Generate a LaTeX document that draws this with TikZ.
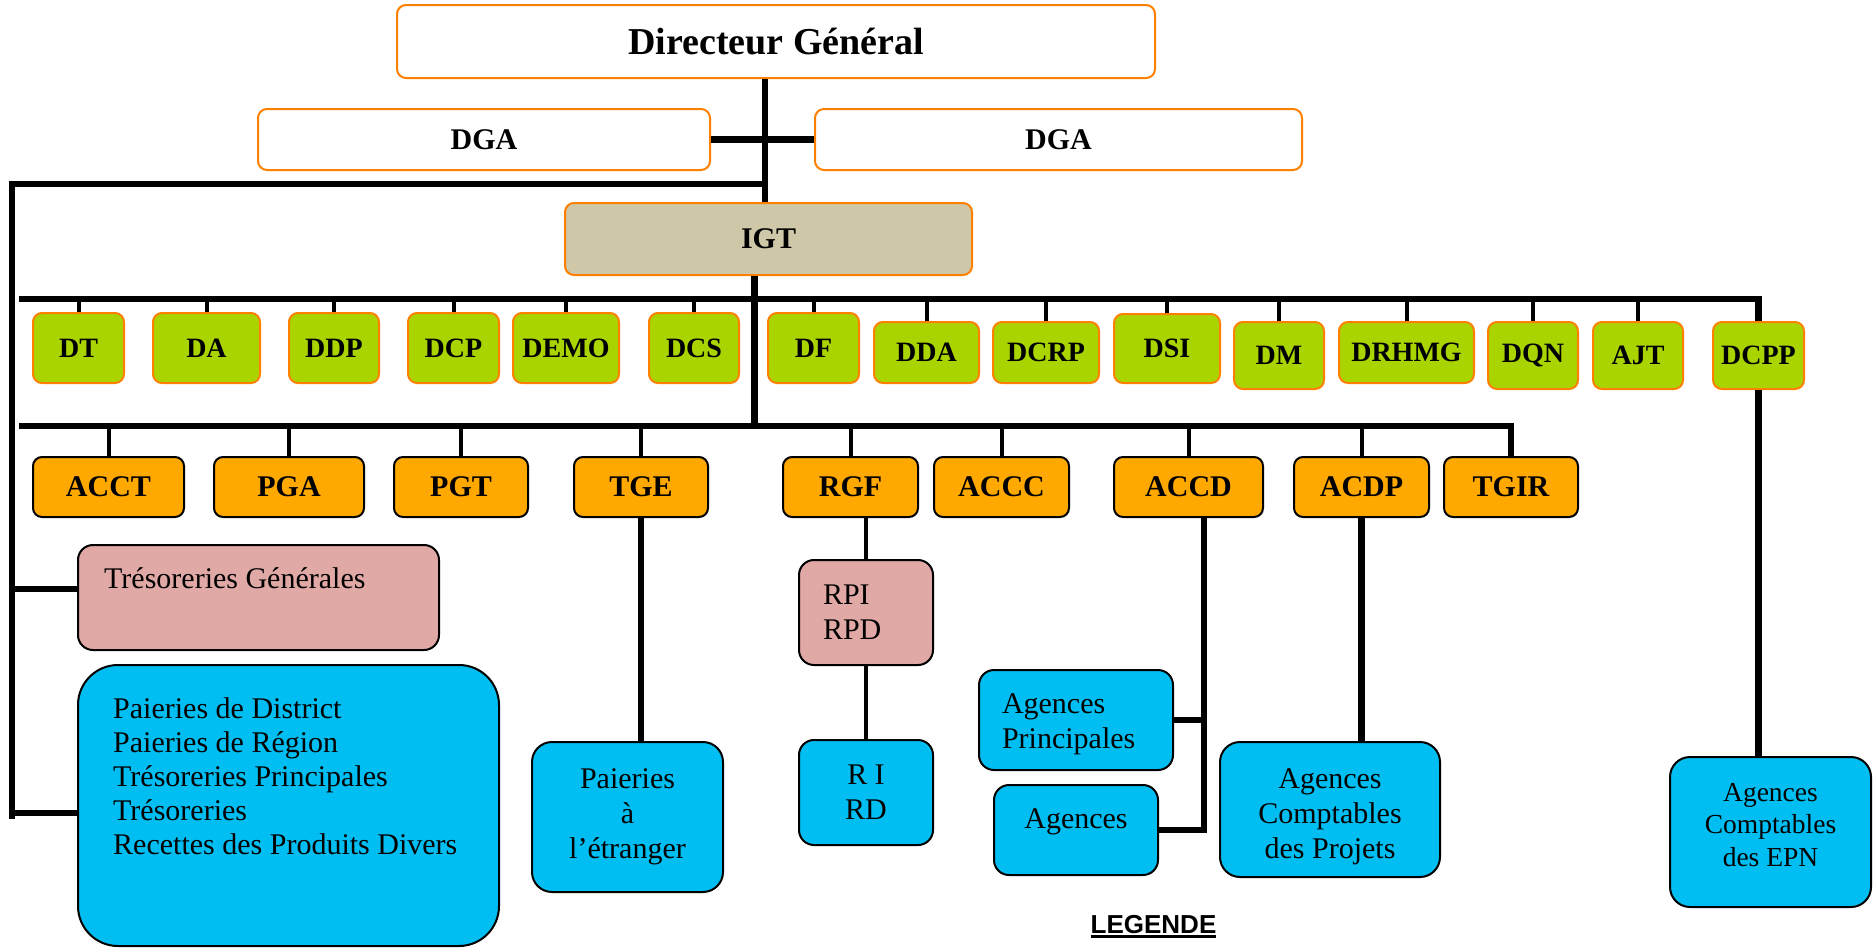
\documentclass[tikz,border=0pt]{standalone}
\usepackage{fontspec}
\setmainfont{Liberation Serif}
\newfontfamily\legendfont{Liberation Sans}
\usetikzlibrary{positioning,calc}

\definecolor{dirorange}{RGB}{255,128,0}
\definecolor{dirgreen}{RGB}{170,212,0}
\definecolor{igttan}{RGB}{206,200,168}
\definecolor{agorange}{RGB}{255,168,0}
\definecolor{svcpink}{RGB}{225,169,166}
\definecolor{svcblue}{RGB}{0,190,242}

\begin{document}
\begin{tikzpicture}[x=1pt,y=-1pt,
    box/.style={rounded corners=9pt,line width=2pt,inner sep=0pt,align=center},
    topbox/.style={box,draw=dirorange,fill=white,font=\bfseries\fontsize{30}{36}\selectfont},
    dirbox/.style={box,draw=dirorange,fill=dirgreen,font=\bfseries\fontsize{28}{34}\selectfont},
    agbox/.style={box,draw=black,fill=agorange,minimum height=60pt,font=\bfseries\fontsize{30}{36}\selectfont},
    pinkbox/.style={box,draw=black,fill=svcpink,rounded corners=15pt,font=\fontsize{30}{35}\selectfont},
    bluebox/.style={box,draw=black,fill=svcblue,rounded corners=20pt,font=\fontsize{30}{35}\selectfont},
    boxtext/.style={inner sep=0pt,align=center,font=\fontsize{30}{35}\selectfont},
    bar/.style={line width=6.5pt},
    stub/.style={line width=4pt}]
  \useasboundingbox (0,0) rectangle (1873,948);

  \node[topbox,minimum width=758pt,minimum height=73pt,font=\bfseries\fontsize{38}{44}\selectfont] (dg) at (776,41.5) {Directeur Général};
  \node[topbox,minimum width=452pt,minimum height=61pt] (dgal) at (484,139.5) {DGA};
  \node[topbox,minimum width=487pt,minimum height=61pt] (dgar) at (1058.5,139.5) {DGA};
  \node[topbox,fill=igttan,minimum width=407pt,minimum height=72pt] (igt) at (768.5,239) {IGT};

  \node[dirbox,minimum width=91pt,minimum height=70pt] (dt) at (78.5,348) {DT};
  \node[dirbox,minimum width=107pt,minimum height=70pt] (da) at (206.5,348) {DA};
  \node[dirbox,minimum width=90pt,minimum height=70pt] (ddp) at (334,348) {DDP};
  \node[dirbox,minimum width=91pt,minimum height=70pt] (dcp) at (453.5,348) {DCP};
  \node[dirbox,minimum width=106pt,minimum height=70pt] (demo) at (566,348) {DEMO};
  \node[dirbox,minimum width=90pt,minimum height=70pt] (dcs) at (694,348) {DCS};
  \node[dirbox,minimum width=91pt,minimum height=70pt] (df) at (813.5,348) {DF};
  \node[dirbox,minimum width=105pt,minimum height=61pt] (dda) at (926.5,352.5) {DDA};
  \node[dirbox,minimum width=106pt,minimum height=61pt] (dcrp) at (1046,352.5) {DCRP};
  \node[dirbox,minimum width=106pt,minimum height=69pt] (dsi) at (1167,348.5) {DSI};
  \node[dirbox,minimum width=90pt,minimum height=67pt] (dm) at (1279,355.5) {DM};
  \node[dirbox,minimum width=135pt,minimum height=61pt] (drhmg) at (1406.5,352.5) {DRHMG};
  \node[dirbox,minimum width=90pt,minimum height=67pt] (dqn) at (1533,355.5) {DQN};
  \node[dirbox,minimum width=90pt,minimum height=67pt] (ajt) at (1638,355.5) {AJT};
  \node[dirbox,minimum width=91pt,minimum height=67pt] (dcpp) at (1758.5,355.5) {DCPP};

  \node[agbox,minimum width=151pt] (acct) at (108.5,487) {ACCT};
  \node[agbox,minimum width=150pt] (pga) at (289,487) {PGA};
  \node[agbox,minimum width=134pt] (pgt) at (461,487) {PGT};
  \node[agbox,minimum width=134pt] (tge) at (641,487) {TGE};
  \node[agbox,minimum width=135pt] (rgf) at (850.5,487) {RGF};
  \node[agbox,minimum width=135pt] (accc) at (1001.5,487) {ACCC};
  \node[agbox,minimum width=149pt] (accd) at (1188.5,487) {ACCD};
  \node[agbox,minimum width=135pt] (acdp) at (1361.5,487) {ACDP};
  \node[agbox,minimum width=134pt] (tgir) at (1511,487) {TGIR};

  \node[pinkbox,minimum width=361pt,minimum height=105pt] (tg) at (258.5,597.5) {};
  \node[boxtext,anchor=north west] (tgtext) at (104,567) {Trésoreries Générales};
  \node[bluebox,rounded corners=40pt,minimum width=421pt,minimum height=281pt] (pd) at (288.5,805.5) {};
  \node[boxtext,anchor=north west,align=left,font=\fontsize{30}{34}\selectfont] (pdtext) at (113,697)
    {Paieries de District\\Paieries de Région\\Trésoreries Principales\\Trésoreries\\Recettes des Produits Divers};
  \node[bluebox,minimum width=191pt,minimum height=150pt] (pe) at (627.5,817) {Paieries\\à\\l’étranger};
  \node[pinkbox,minimum width=134pt,minimum height=105pt,text width=86pt,align=left] (rp) at (866,612.5) {RPI\\RPD};
  \node[bluebox,rounded corners=15pt,minimum width=134pt,minimum height=105pt] (ri) at (866,792.5) {R I\\RD};
  \node[bluebox,rounded corners=15pt,minimum width=194pt,minimum height=100pt] (ap) at (1076,720) {};
  \node[boxtext,text width=148pt,align=left] (aptext) at ([yshift=-4pt]ap.center) {Agences\\Principales};
  \node[bluebox,rounded corners=15pt,minimum width=164pt,minimum height=90pt] (ag) at (1076,830) {};
  \node[boxtext] (agtext) at ([yshift=8pt]ag.center) {Agences};
  \node[bluebox,minimum width=220pt,minimum height=135pt] (acp) at (1330,809.5) {};
  \node[boxtext] (acptext) at ([yshift=-7pt]acp.center) {Agences\\Comptables\\des Projets};
  \node[bluebox,minimum width=201pt,minimum height=150pt] (epn) at (1770.5,832) {};
  \node[boxtext,font=\fontsize{27.5}{32.5}\selectfont] (epntext) at ([yshift=7pt]epn.center) {Agences\\Comptables\\des EPN};

  \node[anchor=base,inner sep=0pt,font=\legendfont\bfseries\fontsize{26}{30}\selectfont] (legende) at (1153.5,933)
    {\vtop{\hbox{LEGENDE}\kern2pt\hrule height 2.5pt}};

  \coordinate (spine) at (765,184);
  \coordinate (lefttop) at (12,184);
  \coordinate (leftbot) at (12,819);
  \coordinate (bar1w) at (19,299);
  \coordinate (bar2w) at (19,426);
  \coordinate (accdjoin) at ([xshift=15.5pt]accd.south);

  \draw[bar] (spine |- dg.south) -- (spine |- igt.north);
  \draw[bar] (dgal.east) -- (dgar.west);
  \draw[bar] (spine) -- (lefttop) -- (leftbot);
  \draw[bar] ([yshift=8.5pt]tg.west -| lefttop) -- ([yshift=8.5pt]tg.west);
  \draw[bar] ([yshift=-7.5pt]pd.west -| lefttop) -- ([yshift=-7.5pt]pd.west);

  \draw[bar] (bar1w) -| (dcpp.north);
  \draw[bar] (bar2w) -| (tgir.north);
  \draw[bar] ([xshift=-14pt]igt.south) -- ([xshift=-14pt]igt.south |- bar2w);

  \draw[stub] (dt.north) -- (dt.north |- bar1w);
  \draw[stub] (da.north) -- (da.north |- bar1w);
  \draw[stub] (ddp.north) -- (ddp.north |- bar1w);
  \draw[stub] (dcp.north) -- (dcp.north |- bar1w);
  \draw[stub] (demo.north) -- (demo.north |- bar1w);
  \draw[stub] (dcs.north) -- (dcs.north |- bar1w);
  \draw[stub] (df.north) -- (df.north |- bar1w);
  \draw[stub] (dda.north) -- (dda.north |- bar1w);
  \draw[stub] (dcrp.north) -- (dcrp.north |- bar1w);
  \draw[stub] (dsi.north) -- (dsi.north |- bar1w);
  \draw[stub] (dm.north) -- (dm.north |- bar1w);
  \draw[stub] (drhmg.north) -- (drhmg.north |- bar1w);
  \draw[stub] (dqn.north) -- (dqn.north |- bar1w);
  \draw[stub] (ajt.north) -- (ajt.north |- bar1w);

  \draw[stub] (acct.north) -- (acct.north |- bar2w);
  \draw[stub] (pga.north) -- (pga.north |- bar2w);
  \draw[stub] (pgt.north) -- (pgt.north |- bar2w);
  \draw[stub] (tge.north) -- (tge.north |- bar2w);
  \draw[stub] (rgf.north) -- (rgf.north |- bar2w);
  \draw[stub] (accc.north) -- (accc.north |- bar2w);
  \draw[stub] (accd.north) -- (accd.north |- bar2w);
  \draw[stub] (acdp.north) -- (acdp.north |- bar2w);

  \draw[bar] (tge.south) -- (tge.south |- pe.north);
  \draw[stub] (rp.north |- rgf.south) -- (rp.north);
  \draw[stub] (rp.south) -- (ri.north);
  \draw[bar] (accdjoin) -- (accdjoin |- ag.east) -- (ag.east);
  \draw[bar] (ap.east) -- (ap.east -| accdjoin);
  \draw[bar] (acdp.south) -- (acdp.south |- acp.north);
  \draw[bar] (dcpp.south) -- (dcpp.south |- epn.north);
\end{tikzpicture}
\end{document}
